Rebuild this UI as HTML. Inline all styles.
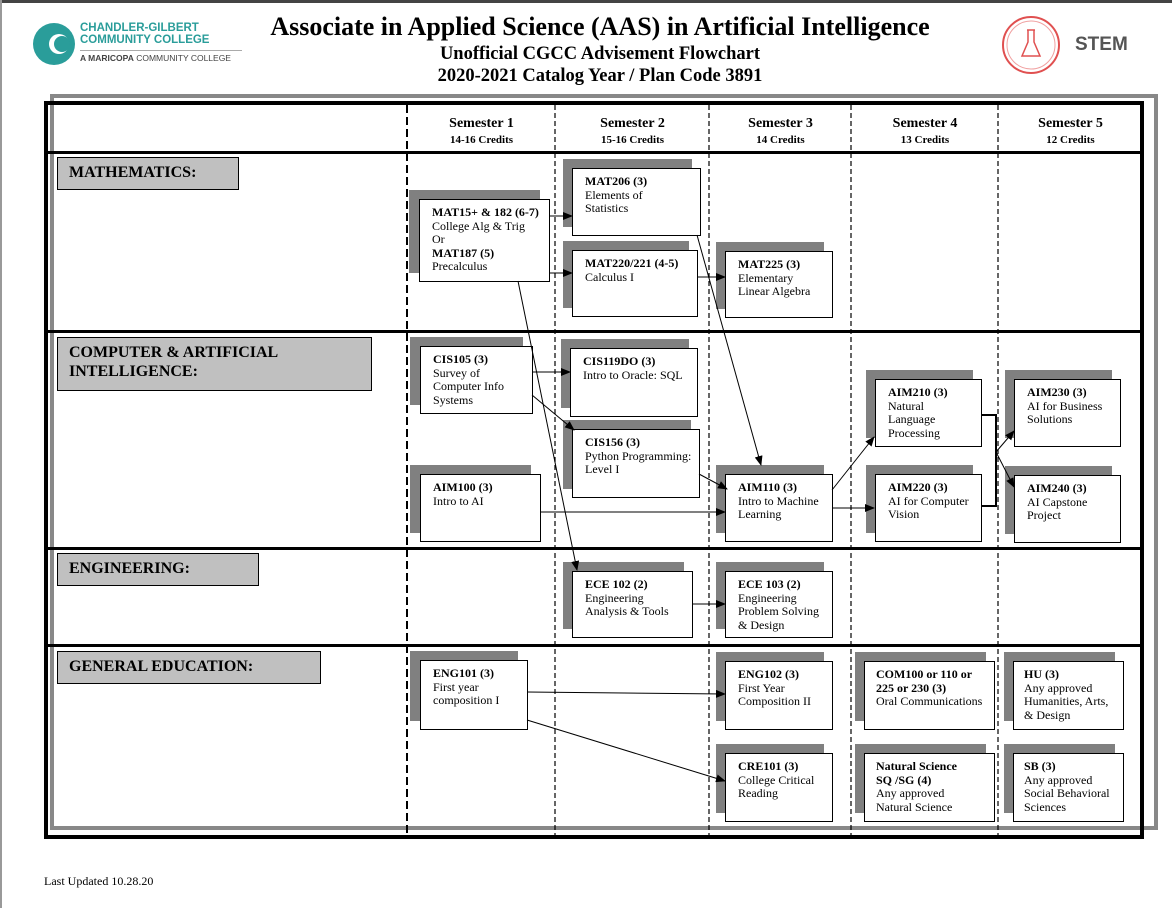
<!DOCTYPE html>
<html><head><meta charset="utf-8"><style>
body{margin:0;width:1172px;height:908px;background:#fff;position:relative;overflow:hidden;font-family:"Liberation Serif",serif;}
.a{position:absolute}
.box{position:absolute;background:#fff;border:1px solid #000;box-sizing:border-box;font-size:12px;line-height:13.5px;padding:6px 0 0 12px;color:#000}
.box b{font-weight:bold}
.sh{position:absolute;background:#808080}
.cat{position:absolute;background:#c0c0c0;border:1px solid #000;box-sizing:border-box;font-weight:bold;font-size:16px;padding:5px 0 0 11px;line-height:19px}
.sem{position:absolute;text-align:center;font-weight:bold;font-size:14px;line-height:16px}
.sem small{font-size:11px;display:block}
</style></head><body>
<div class="a" style="left:0;top:0;width:1172px;height:3px;background:#444"></div>
<div class="a" style="left:0;top:0;width:2px;height:908px;background:#999"></div>
<svg class="a" style="left:30px;top:20px" width="50" height="50"><circle cx="24" cy="24" r="21" fill="#2a9d9a"/><circle cx="29" cy="24" r="10" fill="#fff"/><circle cx="32" cy="24" r="8" fill="#2a9d9a"/></svg>
<div class="a" style="left:80px;top:22px;font-family:'Liberation Sans',sans-serif;font-weight:bold;font-size:11.5px;line-height:12px;color:#2a9d9a">CHANDLER-GILBERT<br>COMMUNITY COLLEGE</div>
<div class="a" style="left:80px;top:50px;width:162px;border-top:1px solid #aaa"></div>
<div class="a" style="left:80px;top:53px;font-family:'Liberation Sans',sans-serif;font-size:8.5px;color:#444"><b>A MARICOPA</b> COMMUNITY COLLEGE</div>
<div class="a" style="left:200px;width:800px;top:11px;text-align:center;font-weight:bold;font-size:26px;line-height:32px">Associate in Applied Science (AAS) in Artificial Intelligence</div>
<div class="a" style="left:200px;width:800px;top:43px;text-align:center;font-weight:bold;font-size:18.5px;line-height:22px">Unofficial CGCC Advisement Flowchart<br>2020-2021 Catalog Year / Plan Code 3891</div>
<svg class="a" style="left:1000px;top:12px" width="64" height="66"><circle cx="31" cy="33" r="28" fill="none" stroke="#e05050" stroke-width="2"/><circle cx="31" cy="33" r="24" fill="none" stroke="#f0a0a0" stroke-width="1"/><path d="M27 18h8M28 18v12l-6 14h18l-6-14V18" fill="none" stroke="#e05050" stroke-width="1.5"/></svg>
<div class="a" style="left:1075px;top:34px;font-family:'Liberation Sans',sans-serif;font-weight:bold;font-size:19px;color:#555">STEM</div>
<div class="a" style="left:50px;top:94px;width:1108px;height:736px;border:4px solid #888;box-sizing:border-box"></div>
<div class="a" style="left:44px;top:101px;width:1100px;height:738px;border:4px solid #000;box-sizing:border-box"></div>
<div class="a" style="left:44px;top:151px;width:1100px;height:3px;background:#000"></div>
<div class="a" style="left:44px;top:330px;width:1100px;height:3px;background:#000"></div>
<div class="a" style="left:44px;top:547px;width:1100px;height:3px;background:#000"></div>
<div class="a" style="left:44px;top:644px;width:1100px;height:3px;background:#000"></div>
<svg class="a" style="left:0;top:0" width="1172" height="908">
<g stroke="#000" fill="none">
<line x1="407" y1="105" x2="407" y2="835" stroke-width="2" stroke-dasharray="8,4"/>
<line x1="555" y1="105" x2="555" y2="835" stroke-width="1.2" stroke-dasharray="5,3"/>
<line x1="709" y1="105" x2="709" y2="835" stroke-width="1.2" stroke-dasharray="5,3"/>
<line x1="851" y1="105" x2="851" y2="835" stroke-width="1.2" stroke-dasharray="5,3"/>
<line x1="998" y1="105" x2="998" y2="835" stroke-width="1.2" stroke-dasharray="5,3"/>
</g></svg>
<div class="sem" style="left:410px;width:143px;top:116px">Semester 1<small>14-16 Credits</small></div>
<div class="sem" style="left:558px;width:149px;top:116px">Semester 2<small>15-16 Credits</small></div>
<div class="sem" style="left:712px;width:137px;top:116px">Semester 3<small>14 Credits</small></div>
<div class="sem" style="left:854px;width:142px;top:116px">Semester 4<small>13 Credits</small></div>
<div class="sem" style="left:1001px;width:139px;top:116px">Semester 5<small>12 Credits</small></div>
<div class="cat" style="left:57px;top:157px;width:182px;height:33px">MATHEMATICS:</div>
<div class="cat" style="left:57px;top:337px;width:315px;height:54px">COMPUTER &amp; ARTIFICIAL<br>INTELLIGENCE:</div>
<div class="cat" style="left:57px;top:553px;width:202px;height:33px">ENGINEERING:</div>
<div class="cat" style="left:57px;top:651px;width:264px;height:33px">GENERAL EDUCATION:</div>

<div class="sh" style="left:409px;top:190px;width:131px;height:83px"></div><div class="box" style="left:419px;top:199px;width:131px;height:83px"><b>MAT15+ &amp; 182 (6-7)</b><br>College Alg &amp; Trig<br>Or<br><b>MAT187 (5)</b><br>Precalculus</div>
<div class="sh" style="left:563px;top:159px;width:129px;height:68px"></div><div class="box" style="left:572px;top:168px;width:129px;height:68px"><b>MAT206 (3)</b><br>Elements of<br>Statistics</div>
<div class="sh" style="left:563px;top:241px;width:126px;height:67px"></div><div class="box" style="left:572px;top:250px;width:126px;height:67px"><b>MAT220/221 (4-5)</b><br>Calculus I</div>
<div class="sh" style="left:716px;top:242px;width:108px;height:67px"></div><div class="box" style="left:725px;top:251px;width:108px;height:67px"><b>MAT225 (3)</b><br>Elementary<br>Linear Algebra</div>
<div class="sh" style="left:410px;top:337px;width:113px;height:68px"></div><div class="box" style="left:420px;top:346px;width:113px;height:68px"><b>CIS105 (3)</b><br>Survey of<br>Computer Info<br>Systems</div>
<div class="sh" style="left:561px;top:339px;width:128px;height:69px"></div><div class="box" style="left:570px;top:348px;width:128px;height:69px"><b>CIS119DO (3)</b><br>Intro to Oracle: SQL</div>
<div class="sh" style="left:563px;top:420px;width:128px;height:69px"></div><div class="box" style="left:572px;top:429px;width:128px;height:69px"><b>CIS156 (3)</b><br>Python Programming:<br>Level I</div>
<div class="sh" style="left:410px;top:465px;width:121px;height:68px"></div><div class="box" style="left:420px;top:474px;width:121px;height:68px"><b>AIM100 (3)</b><br>Intro to AI</div>
<div class="sh" style="left:716px;top:465px;width:108px;height:68px"></div><div class="box" style="left:725px;top:474px;width:108px;height:68px"><b>AIM110 (3)</b><br>Intro to Machine<br>Learning</div>
<div class="sh" style="left:866px;top:370px;width:107px;height:68px"></div><div class="box" style="left:875px;top:379px;width:107px;height:68px"><b>AIM210 (3)</b><br>Natural<br>Language<br>Processing</div>
<div class="sh" style="left:866px;top:465px;width:107px;height:68px"></div><div class="box" style="left:875px;top:474px;width:107px;height:68px"><b>AIM220 (3)</b><br>AI for Computer<br>Vision</div>
<div class="sh" style="left:1005px;top:370px;width:107px;height:68px"></div><div class="box" style="left:1014px;top:379px;width:107px;height:68px"><b>AIM230 (3)</b><br>AI for Business<br>Solutions</div>
<div class="sh" style="left:1005px;top:466px;width:107px;height:68px"></div><div class="box" style="left:1014px;top:475px;width:107px;height:68px"><b>AIM240 (3)</b><br>AI Capstone<br>Project</div>
<div class="sh" style="left:563px;top:562px;width:121px;height:67px"></div><div class="box" style="left:572px;top:571px;width:121px;height:67px"><b>ECE 102 (2)</b><br>Engineering<br>Analysis &amp; Tools</div>
<div class="sh" style="left:716px;top:562px;width:108px;height:67px"></div><div class="box" style="left:725px;top:571px;width:108px;height:67px"><b>ECE 103 (2)</b><br>Engineering<br>Problem Solving<br>&amp; Design</div>
<div class="sh" style="left:410px;top:651px;width:108px;height:70px"></div><div class="box" style="left:420px;top:660px;width:108px;height:70px"><b>ENG101 (3)</b><br>First year<br>composition I</div>
<div class="sh" style="left:716px;top:652px;width:108px;height:69px"></div><div class="box" style="left:725px;top:661px;width:108px;height:69px"><b>ENG102 (3)</b><br>First Year<br>Composition II</div>
<div class="sh" style="left:716px;top:744px;width:108px;height:69px"></div><div class="box" style="left:725px;top:753px;width:108px;height:69px"><b>CRE101 (3)</b><br>College Critical<br>Reading</div>
<div class="sh" style="left:855px;top:652px;width:131px;height:69px"></div><div class="box" style="left:864px;top:661px;width:131px;height:69px;padding-left:11px"><b>COM100 or 110 or<br>225 or 230 (3)</b><br>Oral Communications</div>
<div class="sh" style="left:855px;top:744px;width:131px;height:69px"></div><div class="box" style="left:864px;top:753px;width:131px;height:69px;padding-left:11px"><b>Natural Science<br>SQ /SG (4)</b><br>Any approved<br>Natural Science</div>
<div class="sh" style="left:1004px;top:652px;width:111px;height:69px"></div><div class="box" style="left:1013px;top:661px;width:111px;height:69px;padding-left:10px"><b>HU (3)</b><br>Any approved<br>Humanities, Arts,<br>&amp; Design</div>
<div class="sh" style="left:1004px;top:744px;width:111px;height:69px"></div><div class="box" style="left:1013px;top:753px;width:111px;height:69px;padding-left:10px"><b>SB (3)</b><br>Any approved<br>Social Behavioral<br>Sciences</div>

<svg class="a" style="left:0;top:0" width="1172" height="908">
<defs><marker id="m" markerWidth="10" markerHeight="8" refX="9" refY="4" orient="auto" markerUnits="userSpaceOnUse"><path d="M0,0L10,4L0,8z" fill="#000"/></marker></defs>
<g stroke="#000" stroke-width="1" fill="none" marker-end="url(#m)">
<line x1="549" y1="216" x2="572" y2="216"/>
<line x1="549" y1="273" x2="572" y2="273"/>
<line x1="697" y1="277" x2="725" y2="277"/>
<line x1="697" y1="235" x2="761" y2="465"/>
<line x1="518" y1="281" x2="577" y2="570"/>
<line x1="532" y1="372" x2="570" y2="372"/>
<line x1="532" y1="395" x2="574" y2="430"/>
<line x1="699" y1="474" x2="727" y2="489"/>
<line x1="540" y1="512" x2="725" y2="512"/>
<line x1="832" y1="490" x2="874" y2="437"/>
<line x1="832" y1="508" x2="874" y2="508"/>
<line x1="996" y1="452" x2="1014" y2="431"/>
<line x1="996" y1="452" x2="1014" y2="487"/>
<line x1="692" y1="604" x2="725" y2="604"/>
<line x1="527" y1="692" x2="725" y2="694"/>
<line x1="527" y1="720" x2="725" y2="781"/>
</g>
<path d="M981 415H996V506H981" stroke="#000" stroke-width="2" fill="none"/>
</svg>
<div class="a" style="left:44px;top:874px;font-size:12px">Last Updated 10.28.20</div>
</body></html>
